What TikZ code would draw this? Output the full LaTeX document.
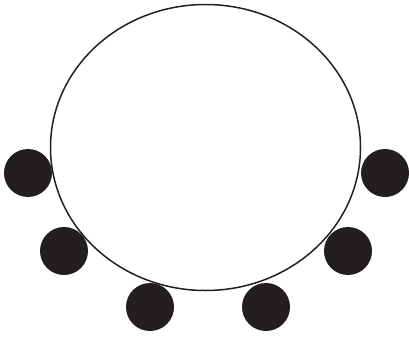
\documentclass[tikz,border=0pt]{standalone}
\usepackage{xcolor}
\usepackage{tikz}
\definecolor{ink}{HTML}{231F20}
\tikzset{
  bead/.style={circle,fill=ink,inner sep=0pt,minimum size=48pt},
  ring/.style={draw=ink,line width=1.5pt}
}

\begin{document}
\begin{tikzpicture}[x=1pt,y=-1pt]
  \useasboundingbox (0,0) rectangle (409,337);
  \draw[ring] (205.5,147.5) ellipse [x radius=155,y radius=143];
  \node[bead] (b1) at (28,173) {};
  \node[bead] (b2) at (64,251) {};
  \node[bead] (b3) at (150,307) {};
  \node[bead] (b4) at (266,307) {};
  \node[bead] (b5) at (348,251) {};
  \node[bead] (b6) at (385,173) {};
\end{tikzpicture}
\end{document}
